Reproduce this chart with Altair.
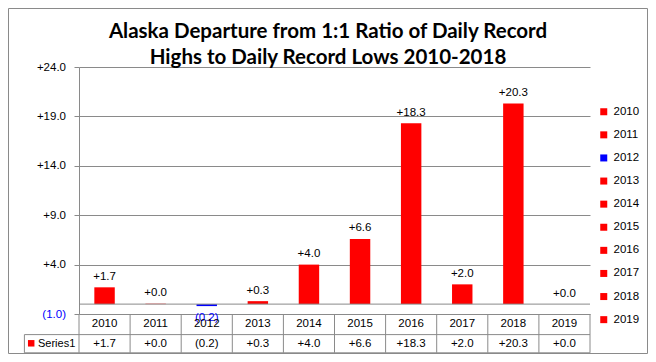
import altair as alt
import pandas as pd

# ---- data ----
years = ["2010", "2011", "2012", "2013", "2014", "2015", "2016", "2017", "2018", "2019"]
values = [1.7, 0.04, -0.2, 0.3, 4.0, 6.6, 18.3, 2.0, 20.3, 0.0]
bar_colors = ["#FF0000", "#FF0000", "#0000FF", "#FF0000", "#FF0000",
              "#FF0000", "#FF0000", "#FF0000", "#FF0000", "#FF0000"]
y_ticks = [-1, 4, 9, 14, 19, 24]
title_lines = ["Alaska Departure from 1:1 Ratio of Daily Record",
               "Highs to Daily Record Lows 2010-2018"]
series_name = "Series1"


def fmt(v):
    return f"+{v:.1f}" if v >= 0 else f"({-v:.1f})"


labels = [fmt(v) for v in values]
df = pd.DataFrame({"year": years, "value": values, "label": labels})
one = pd.DataFrame({"k": [0]})

# ---- layout constants ----
W, H = 511, 247
PAD = {"left": 71, "top": 59, "right": 58, "bottom": 40}
ROW1_Y = 257
ROW2_Y = 277
TABLE_MID = 267.6
TABLE_BOT = 285.8
LEFT_COL = -54.6
GRAY = "#8a8a8a"
RED = "#FF0000"
BLUE = "#0000FF"
FONT = "Liberation Sans"
FS = 11.5

x = alt.X("year:O", axis=None, scale=alt.Scale(paddingInner=0, paddingOuter=0))
y = alt.Y(
    "value:Q",
    scale=alt.Scale(domain=[-1, 24], nice=False),
    axis=alt.Axis(
        values=y_ticks, title=None, grid=True, gridColor=GRAY, gridWidth=1,
        domainColor=GRAY, tickColor=GRAY, tickSize=5,
        labelExpr="datum.value < 0 ? '(' + format(-datum.value, '.1f') + ')' : '+' + format(datum.value, '.1f')",
        labelColor={"condition": {"test": "datum.value < 0", "value": BLUE}, "value": "#000000"},
        labelFont=FONT, labelFontSize=FS, labelPadding=8.5, labelFlush=False,
        labelOverlap=False,
    ),
)

bars = alt.Chart(df).mark_bar(width=alt.RelativeBandSize(0.4)).encode(
    x=x,
    y=y,
    color=alt.Color(
        "year:N",
        scale=alt.Scale(domain=years, range=bar_colors),
        legend=alt.Legend(
            title=None, orient="none", legendX=519, legendY=39,
            symbolType="square", symbolSize=49, symbolStrokeWidth=0,
            labelFont=FONT, labelFontSize=FS, labelColor="#000000",
            rowPadding=10.1, labelOffset=4, padding=0,
        ),
    ),
)

zero_rule = alt.Chart(one).mark_rule(color=GRAY).encode(y=alt.datum(0))

pos_labels = alt.Chart(df).transform_filter("datum.value >= 0").mark_text(
    baseline="alphabetic", dy=-7.5, font=FONT, fontSize=FS, color="#000000"
).encode(x=x, y="value:Q", text="label:N")

neg_labels = alt.Chart(df).transform_filter("datum.value < 0").mark_text(
    baseline="top", dy=6, font=FONT, fontSize=FS, color=BLUE
).encode(x=x, y="value:Q", text="label:N")

# data table
vlines = alt.Chart(df).mark_rule(color=GRAY).encode(
    x=alt.X("year:O", bandPosition=0, axis=None),
    y=alt.value(H), y2=alt.value(TABLE_BOT),
)
right_line = alt.Chart(one).mark_rule(color=GRAY).encode(
    x=alt.value(W), y=alt.value(H), y2=alt.value(TABLE_BOT))
left_col_line = alt.Chart(one).mark_rule(color=GRAY).encode(
    x=alt.value(LEFT_COL), y=alt.value(TABLE_MID), y2=alt.value(TABLE_BOT))
mid_line = alt.Chart(one).mark_rule(color=GRAY).encode(
    x=alt.value(LEFT_COL), x2=alt.value(W), y=alt.value(TABLE_MID))
bot_line = alt.Chart(one).mark_rule(color=GRAY).encode(
    x=alt.value(LEFT_COL), x2=alt.value(W), y=alt.value(TABLE_BOT))

year_text = alt.Chart(df).mark_text(
    baseline="middle", font=FONT, fontSize=FS, color="#000000"
).encode(x=x, y=alt.value(ROW1_Y), text="year:N")
value_text = alt.Chart(df).mark_text(
    baseline="middle", font=FONT, fontSize=FS, color="#000000"
).encode(x=x, y=alt.value(ROW2_Y), text="label:N")

series_swatch = alt.Chart(one).mark_square(size=42, color=RED, opacity=1).encode(
    x=alt.value(-47.8), y=alt.value(276.3))
series_text = alt.Chart(one).mark_text(
    align="left", baseline="middle", font=FONT, fontSize=11, color="#000000"
).encode(x=alt.value(-41), y=alt.value(276.5), text=alt.value(series_name))

title = alt.Chart(one).mark_text(
    align="center", baseline="alphabetic", font="Lato", fontWeight="bold",
    fontSize=20.5, lineHeight=25.8, color="#000000"
).encode(x=alt.value(249), y=alt.value(-28.7), text=alt.value(title_lines))

border = alt.Chart(one).mark_rect(fillOpacity=0, stroke=GRAY, strokeWidth=1).encode(
    x=alt.value(-PAD["left"] + 0.5), x2=alt.value(W + PAD["right"] - 0.5),
    y=alt.value(-PAD["top"] + 0.5), y2=alt.value(H + PAD["bottom"] - 0.5),
)

chart = alt.layer(
    bars, zero_rule, pos_labels, neg_labels,
    vlines, right_line, left_col_line, mid_line, bot_line,
    year_text, value_text, series_swatch, series_text, title, border,
).properties(
    width=W, height=H, padding=PAD, autosize="none", background="white"
).configure_view(strokeWidth=0)

chart.save("out.html", embed_options={"renderer": "svg", "actions": False})
